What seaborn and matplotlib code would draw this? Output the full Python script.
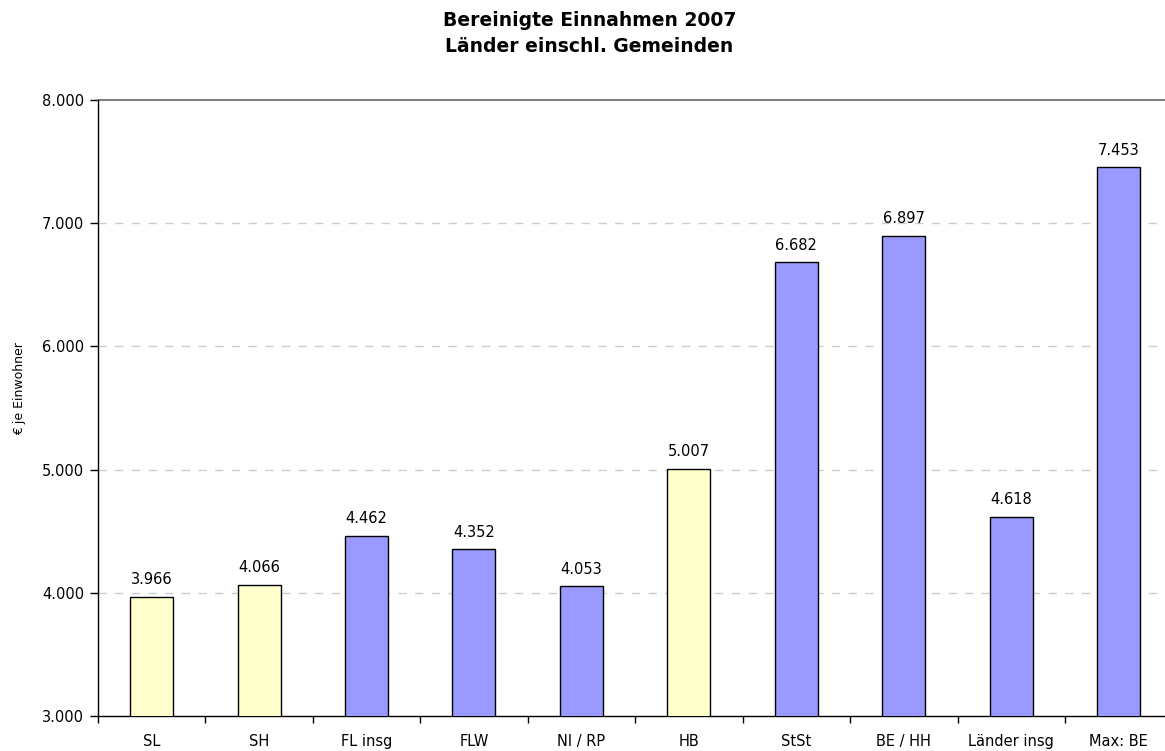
import matplotlib
matplotlib.use('Agg')
import matplotlib.pyplot as plt
import seaborn as sns
import pandas as pd
from matplotlib.ticker import FuncFormatter, FixedLocator

# Daten: bereinigte Einnahmen 2007 in Euro je Einwohner
laender = ['SL', 'SH', 'FL insg', 'FLW', 'NI / RP', 'HB', 'StSt', 'BE / HH', 'Länder insg', 'Max: BE']
einnahmen = [3966, 4066, 4462, 4352, 4053, 5007, 6682, 6897, 4618, 7453]
gruppe = ['gelb', 'gelb', 'blau', 'blau', 'blau', 'gelb', 'blau', 'blau', 'blau', 'blau']

farben = {'gelb': '#FFFFCC', 'blau': '#9999FF'}

data = pd.DataFrame({'land': laender, 'wert': einnahmen, 'gruppe': gruppe})

sns.set_style('white')
plt.rcParams['font.family'] = ['DejaVu Sans']
plt.rcParams['text.color'] = 'black'
plt.rcParams['xtick.color'] = 'black'
plt.rcParams['ytick.color'] = 'black'
plt.rcParams['axes.labelcolor'] = 'black'

fig = plt.figure(figsize=(11.65, 7.51), dpi=100)
ax = fig.add_axes([0.084, 0.0466, 0.916, 0.8204])

sns.barplot(data=data, x='land', y='wert', hue='gruppe', palette=farben,
            dodge=False, legend=False, width=0.4, edgecolor='black',
            linewidth=1.0, saturation=1, ax=ax, zorder=3)

de_fmt = lambda v: f'{int(round(v)):,}'.replace(',', '.')

# Werte über den Balken
for cont in ax.containers:
    ax.bar_label(cont, labels=[de_fmt(b.get_height()) for b in cont],
                 padding=7, fontsize=10.5, color='black')

ax.set_ylim(3000, 8000)
ax.set_xlim(-0.5, 9.43)
ax.yaxis.set_major_locator(FixedLocator([3000, 4000, 5000, 6000, 7000, 8000]))
ax.yaxis.set_major_formatter(FuncFormatter(lambda v, p: de_fmt(v)))

# Gitterlinien
for y in [4000, 5000, 6000, 7000]:
    ax.axhline(y, color='#CCCCCC', linestyle=(0, (6, 6)), linewidth=1.0, zorder=1)
ax.axhline(8000, color='#808080', linewidth=1.5, zorder=1, clip_on=False)

for s in ['top', 'right']:
    ax.spines[s].set_visible(False)
for s in ['left', 'bottom']:
    ax.spines[s].set_color('black')
    ax.spines[s].set_linewidth(1.0)

# Striche zwischen den Kategorien
ax.set_xticks([i - 0.5 for i in range(len(laender))], minor=True)
ax.tick_params(axis='x', which='major', length=0, pad=13, labelsize=10.5, bottom=True)
ax.tick_params(axis='x', which='minor', length=5, width=1, color='black',
               direction='out', bottom=True)
ax.tick_params(axis='y', which='major', length=6, width=1, color='black',
               direction='out', labelsize=10.5, left=True, pad=4)

ax.set_xlabel('')
ax.set_ylabel('€ je Einwohner', fontsize=9, va='center')
ax.yaxis.set_label_coords(-0.073, 0.532)

fig.suptitle('Bereinigte Einnahmen 2007\nLänder einschl. Gemeinden',
             fontsize=13.5, fontweight='bold', y=0.986, x=0.506, linespacing=1.5)

fig.savefig('out.png', dpi=100)
